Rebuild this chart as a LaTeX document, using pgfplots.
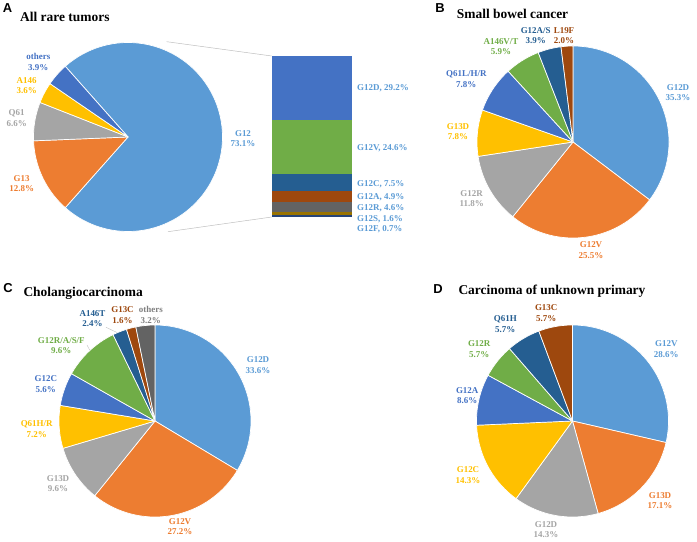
\documentclass[border=0pt]{standalone}
\usepackage{pgfplots}
\pgfplotsset{compat=1.18}
\usepackage{fontspec}
\setmainfont{Liberation Serif}
\newfontfamily\lsans{Liberation Sans}
\definecolor{c1}{HTML}{5B9BD5}
\definecolor{c2}{HTML}{ED7D31}
\definecolor{c3}{HTML}{A5A5A5}
\definecolor{c4}{HTML}{FFC000}
\definecolor{c5}{HTML}{4472C4}
\definecolor{c6}{HTML}{70AD47}
\definecolor{c7}{HTML}{255E91}
\definecolor{c8}{HTML}{9E480E}
\definecolor{c9}{HTML}{636363}
\definecolor{c10}{HTML}{997300}
\definecolor{c11}{HTML}{264478}
\definecolor{t9}{HTML}{7F7F7F}
% pie helpers: centre x, centre y, radius, start angle; slices go clockwise
\newcommand\piebegin[4]{\xdef\pcx{#1}\xdef\pcy{#2}\xdef\pr{#3}\xdef\pang{#4}}
\newcommand\slice[2]{%
  \pgfmathsetmacro\pnext{\pang-3.6*#1}%
  \edef\tmp{\noexpand\addplot[fill=#2, draw=white, line width=0.7pt, line join=round,
    domain=\pnext:\pang, samples=100, variable=\noexpand\t]
    ({\pcx+\pr*cos(\noexpand\t)},{\pcy+\pr*sin(\noexpand\t)}) -- (axis cs:\pcx,\pcy) -- cycle;}%
  \tmp
  \xdef\pang{\pnext}}
% stacked bar helpers
\newcommand\barbegin[4]{\xdef\barL{#1}\xdef\barR{#2}\xdef\btop{#3}\xdef\bscale{#4}}
\newcommand\barseg[2]{%
  \pgfmathsetmacro\bnext{\btop-\bscale*#1}%
  \edef\tmp{\noexpand\addplot[fill=#2, draw=none] coordinates
    {(\barL,\btop) (\barR,\btop) (\barR,\bnext) (\barL,\bnext)};}%
  \tmp
  \xdef\btop{\bnext}}
\newcommand\lblfont{\fontsize{9}{10.6}\selectfont\bfseries}
\newcommand\titlefont{\fontsize{13.5}{15}\selectfont\bfseries}
\newcommand\letterfont{\lsans\fontsize{13}{15}\selectfont\bfseries}
\newcommand\lab[4]{\node[align=center, text=#3, font=\lblfont, inner sep=0pt] at (axis cs:#1,#2) {#4};}
\newcommand\labw[4]{\node[anchor=west, text=#3, font=\lblfont, inner sep=0pt] at (axis cs:#1,#2) {#4};}
\begin{document}
\begin{tikzpicture}
\useasboundingbox (0,0) rectangle (697bp,542bp);
\begin{axis}[at={(0,0)}, anchor=south west, width=697bp, height=542bp, scale only axis,
  xmin=0, xmax=697, ymin=0, ymax=542, hide axis, clip=false]

% ---------------- Panel A ----------------
\node[font=\letterfont, inner sep=0pt] at (axis cs:7.5,533.5) {A};
\node[anchor=base west, font=\titlefont, inner sep=0pt] at (axis cs:20,520.3) {All rare tumors};
\addplot[color=black!25, line width=0.5pt] coordinates {(166.7,500.3) (271.7,486)};
\addplot[color=black!25, line width=0.5pt] coordinates {(168,310.3) (271.7,325)};
\pgfmathsetmacro\stA{1.8*73.1}
\piebegin{128}{405}{94.5}{\stA}
\slice{73.1}{c1}
\slice{12.8}{c2}
\slice{6.6}{c3}
\slice{3.6}{c4}
\slice{3.9}{c5}
\barbegin{272}{352}{486}{2.2025}
\barseg{29.2}{c5}
\barseg{24.6}{c6}
\barseg{7.5}{c7}
\barseg{4.9}{c8}
\barseg{4.6}{c9}
\barseg{1.6}{c10}
\barseg{0.7}{c11}
\lab{38.3}{480.3}{c5}{others\\3.9\%}
\lab{26.7}{456.2}{c4}{A146\\3.6\%}
\lab{16.7}{423.7}{c3}{Q61\\6.6\%}
\lab{21.7}{358.3}{c2}{G13\\12.8\%}
\lab{243}{403.5}{c1}{G12\\73.1\%}
\labw{357}{454}{c1}{G12D, 29.2\%}
\labw{357}{394}{c1}{G12V, 24.6\%}
\labw{357}{358}{c1}{G12C, 7.5\%}
\labw{357}{344.5}{c1}{G12A, 4.9\%}
\labw{357}{334}{c1}{G12R, 4.6\%}
\labw{357}{323}{c1}{G12S, 1.6\%}
\labw{357}{313}{c1}{G12F, 0.7\%}

% ---------------- Panel B ----------------
\node[font=\letterfont, inner sep=0pt] at (axis cs:440,534) {B};
\node[anchor=base west, font=\titlefont, inner sep=0pt] at (axis cs:456.7,523.7) {Small bowel cancer};
\piebegin{573}{400}{96}{90}
\slice{35.3}{c1}
\slice{25.5}{c2}
\slice{11.8}{c3}
\slice{7.8}{c4}
\slice{7.8}{c5}
\slice{5.9}{c6}
\slice{3.9}{c7}
\slice{2.0}{c8}
\lab{678}{449.5}{c1}{G12D\\35.3\%}
\lab{591}{292}{c2}{G12V\\25.5\%}
\lab{471.7}{343.3}{c3}{G12R\\11.8\%}
\lab{458}{410.3}{c4}{G13D\\7.8\%}
\lab{466.3}{463}{c5}{Q61L/H/R\\7.8\%}
\lab{501}{495.3}{c6}{A146V/T\\5.9\%}
\lab{535.7}{506.3}{c7}{G12A/S\\3.9\%}
\lab{564}{506.3}{c8}{L19F\\2.0\%}

% ---------------- Panel C ----------------
\node[font=\letterfont, inner sep=0pt] at (axis cs:8,253.7) {C};
\node[anchor=base west, font=\titlefont, inner sep=0pt] at (axis cs:23.3,245.3) {Cholangiocarcinoma};
\addplot[color=black!25, line width=0.4pt] coordinates {(87,197) (90.5,190.5)};
\addplot[color=black!25, line width=0.4pt] coordinates {(106,214.7) (117.3,209.3)};
\piebegin{155}{121}{96}{90}
\slice{33.6}{c1}
\slice{27.2}{c2}
\slice{9.6}{c3}
\slice{7.2}{c4}
\slice{5.6}{c5}
\slice{9.6}{c6}
\slice{2.4}{c7}
\slice{1.6}{c8}
\slice{3.2}{c9}
\lab{258}{176.7}{c1}{G12D\\33.6\%}
\lab{180}{15.3}{c2}{G12V\\27.2\%}
\lab{58}{58.2}{c3}{G13D\\9.6\%}
\lab{36.7}{113}{c4}{Q61H/R\\7.2\%}
\lab{45.8}{157.7}{c5}{G12C\\5.6\%}
\lab{61.3}{196.5}{c6}{G12R/A/S/F\\9.6\%}
\lab{92.5}{223.3}{c7}{A146T\\2.4\%}
\lab{122.5}{227}{c8}{G13C\\1.6\%}
\lab{150.8}{227}{t9}{others\\3.2\%}

% ---------------- Panel D ----------------
\node[font=\letterfont, inner sep=0pt] at (axis cs:438,252.7) {D};
\node[anchor=base west, font=\titlefont, inner sep=0pt] at (axis cs:458.3,247) {Carcinoma of unknown primary};
\piebegin{572.5}{121}{96}{90}
\slice{28.6}{c1}
\slice{17.1}{c2}
\slice{14.3}{c3}
\slice{14.3}{c4}
\slice{8.6}{c5}
\slice{5.7}{c6}
\slice{5.7}{c7}
\slice{5.7}{c8}
\lab{666.3}{193}{c1}{G12V\\28.6\%}
\lab{660}{41.2}{c2}{G13D\\17.1\%}
\lab{546}{12.5}{c3}{G12D\\14.3\%}
\lab{468}{67}{c4}{G12C\\14.3\%}
\lab{467.2}{146.3}{c5}{G12A\\8.6\%}
\lab{479.2}{193}{c6}{G12R\\5.7\%}
\lab{505.3}{217.7}{c7}{Q61H\\5.7\%}
\lab{546.2}{228.7}{c8}{G13C\\5.7\%}
\end{axis}
\end{tikzpicture}
\end{document}
